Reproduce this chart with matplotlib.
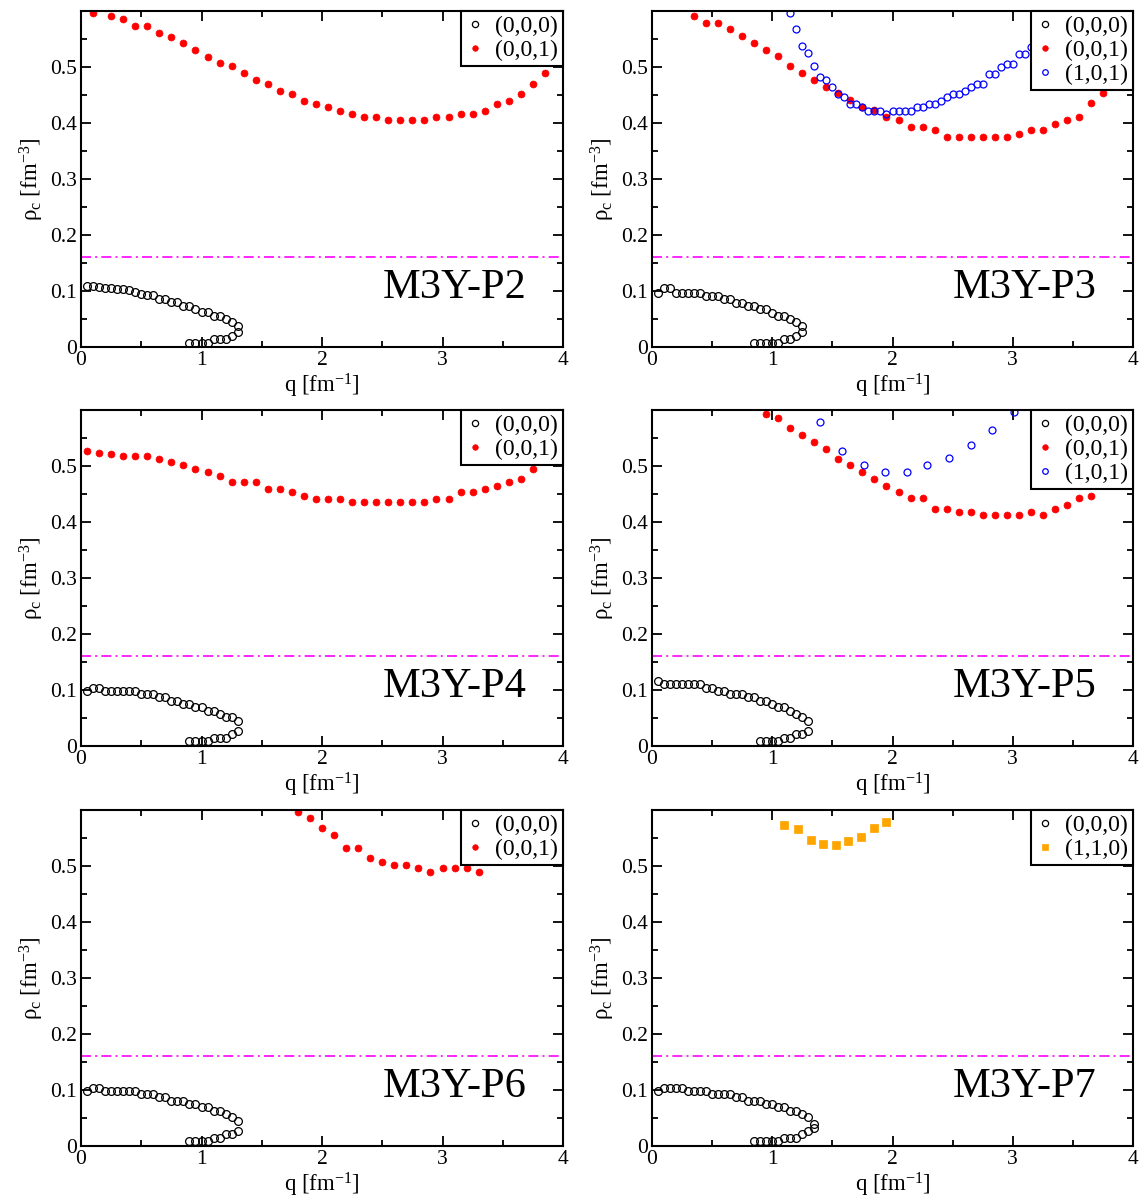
import matplotlib
matplotlib.use("Agg")
import matplotlib.pyplot as plt
from matplotlib.ticker import MultipleLocator

plt.rcParams['font.family'] = ['Liberation Serif', 'DejaVu Serif']
plt.rcParams['mathtext.fontset'] = 'custom'
plt.rcParams['mathtext.rm'] = 'Liberation Serif'
plt.rcParams['mathtext.it'] = 'Liberation Serif:italic'

# ---------------- data ----------------
# upper/lower branches of the (0,0,0) instability curve (x positions)
q_low_130 = [0.05, 0.1, 0.15, 0.2, 0.25, 0.3, 0.35, 0.4, 0.45, 0.5, 0.55, 0.6, 0.65, 0.7, 0.75,
             0.8, 0.85, 0.9, 0.95, 1.0, 1.05, 1.1, 1.15, 1.2, 1.25, 1.3,
             1.3, 1.25, 1.2, 1.15, 1.1, 1.05, 1.0, 0.95, 0.9]
q_low_125 = [0.05, 0.1, 0.15, 0.2, 0.25, 0.3, 0.35, 0.4, 0.45, 0.5, 0.55, 0.6, 0.65, 0.7, 0.75,
             0.8, 0.85, 0.9, 0.95, 1.0, 1.05, 1.1, 1.15, 1.2, 1.25,
             1.25, 1.2, 1.15, 1.1, 1.05, 1.0, 0.95, 0.9, 0.85]
q_low_135 = [0.05, 0.1, 0.15, 0.2, 0.25, 0.3, 0.35, 0.4, 0.45, 0.5, 0.55, 0.6, 0.65, 0.7, 0.75,
             0.8, 0.85, 0.9, 0.95, 1.0, 1.05, 1.1, 1.15, 1.2, 1.25, 1.3, 1.35,
             1.35, 1.3, 1.25, 1.2, 1.15, 1.1, 1.05, 1.0, 0.95, 0.9, 0.85]

# M3Y-P2
p2_000_q = q_low_130
p2_000_rho = [0.109, 0.109, 0.107, 0.106, 0.106, 0.104, 0.103, 0.101, 0.098, 0.094, 0.092, 0.092, 0.086,
              0.086, 0.080, 0.080, 0.074, 0.074, 0.068, 0.062, 0.062, 0.056, 0.056, 0.050, 0.044, 0.038,
              0.026, 0.020, 0.014, 0.014, 0.014, 0.008, 0.008, 0.008, 0.008]
p2_001_q = [0.1, 0.25, 0.35, 0.45, 0.55, 0.65, 0.75, 0.85, 0.95, 1.05, 1.15, 1.25, 1.35, 1.45, 1.55,
            1.65, 1.75, 1.85, 1.95, 2.05, 2.15, 2.25, 2.35, 2.45, 2.55, 2.65, 2.75, 2.85, 2.95, 3.05,
            3.15, 3.25, 3.35, 3.45, 3.55, 3.65, 3.75, 3.85]
p2_001_rho = [0.597, 0.591, 0.585, 0.573, 0.573, 0.560, 0.554, 0.542, 0.530, 0.518, 0.507, 0.501, 0.489,
              0.477, 0.470, 0.458, 0.452, 0.440, 0.434, 0.428, 0.422, 0.416, 0.410, 0.410, 0.405, 0.405,
              0.405, 0.405, 0.410, 0.410, 0.416, 0.416, 0.422, 0.434, 0.440, 0.452, 0.470, 0.489]

# M3Y-P3
p3_000_q = q_low_125
p3_000_rho = [0.097, 0.105, 0.105, 0.097, 0.097, 0.097, 0.097, 0.097, 0.091, 0.091, 0.091, 0.085, 0.085,
              0.079, 0.079, 0.073, 0.073, 0.067, 0.067, 0.061, 0.055, 0.055, 0.050, 0.044, 0.038,
              0.026, 0.020, 0.014, 0.014, 0.008, 0.008, 0.008, 0.008, 0.008]
p3_001_q = [0.35, 0.45, 0.55, 0.65, 0.75, 0.85, 0.95, 1.05, 1.15, 1.25, 1.35, 1.45, 1.55, 1.65, 1.75,
            1.85, 1.95, 2.05, 2.15, 2.25, 2.35, 2.45, 2.55, 2.65, 2.75, 2.85, 2.95, 3.05, 3.15, 3.25,
            3.35, 3.45, 3.55, 3.65, 3.75]
p3_001_rho = [0.591, 0.579, 0.579, 0.567, 0.555, 0.543, 0.531, 0.519, 0.501, 0.489, 0.477, 0.465, 0.453,
              0.441, 0.429, 0.423, 0.411, 0.405, 0.393, 0.393, 0.387, 0.375, 0.375, 0.375, 0.375, 0.375,
              0.375, 0.381, 0.387, 0.387, 0.399, 0.405, 0.411, 0.435, 0.453]
p3_101_q = [1.15, 1.2, 1.25, 1.3, 1.35, 1.4, 1.45, 1.5, 1.55, 1.6, 1.65, 1.7, 1.75, 1.8, 1.85, 1.9,
            1.95, 2.0, 2.05, 2.1, 2.15, 2.2, 2.25, 2.3, 2.35, 2.4, 2.45, 2.5, 2.55, 2.6, 2.65, 2.7,
            2.75, 2.8, 2.85, 2.9, 2.95, 3.0, 3.05, 3.1, 3.15, 3.45]
p3_101_rho = [0.597, 0.567, 0.537, 0.525, 0.501, 0.483, 0.477, 0.464, 0.452, 0.446, 0.434, 0.434, 0.428,
              0.422, 0.422, 0.422, 0.416, 0.422, 0.422, 0.422, 0.422, 0.428, 0.428, 0.434, 0.434, 0.440,
              0.446, 0.452, 0.452, 0.458, 0.464, 0.470, 0.470, 0.488, 0.488, 0.500, 0.506, 0.506, 0.524,
              0.524, 0.536, 0.600]

# M3Y-P4
p4_000_q = q_low_130
p4_000_rho = [0.098, 0.104, 0.104, 0.098, 0.098, 0.098, 0.098, 0.098, 0.098, 0.092, 0.092, 0.092, 0.087,
              0.087, 0.081, 0.081, 0.075, 0.075, 0.069, 0.069, 0.063, 0.063, 0.057, 0.051, 0.051, 0.045,
              0.027, 0.021, 0.015, 0.015, 0.015, 0.009, 0.009, 0.009, 0.009]
p4_001_q = [0.05, 0.15, 0.25, 0.35, 0.45, 0.55, 0.65, 0.75, 0.85, 0.95, 1.05, 1.15, 1.25, 1.35, 1.45,
            1.55, 1.65, 1.75, 1.85, 1.95, 2.05, 2.15, 2.25, 2.35, 2.45, 2.55, 2.65, 2.75, 2.85, 2.95,
            3.05, 3.15, 3.25, 3.35, 3.45, 3.55, 3.65, 3.75]
p4_001_rho = [0.526, 0.524, 0.521, 0.518, 0.518, 0.518, 0.513, 0.507, 0.501, 0.495, 0.489, 0.483, 0.471,
              0.471, 0.471, 0.459, 0.459, 0.453, 0.447, 0.441, 0.441, 0.441, 0.435, 0.435, 0.435, 0.435,
              0.435, 0.435, 0.435, 0.441, 0.441, 0.453, 0.453, 0.459, 0.465, 0.471, 0.477, 0.495]

# M3Y-P5
p5_000_q = q_low_130
p5_000_rho = [0.116, 0.110, 0.110, 0.110, 0.110, 0.110, 0.110, 0.110, 0.104, 0.104, 0.098, 0.098, 0.092,
              0.092, 0.092, 0.087, 0.087, 0.081, 0.081, 0.075, 0.069, 0.069, 0.063, 0.057, 0.051, 0.045,
              0.027, 0.021, 0.021, 0.015, 0.015, 0.009, 0.009, 0.009, 0.009]
p5_001_q = [0.95, 1.05, 1.15, 1.25, 1.35, 1.45, 1.55, 1.65, 1.75, 1.85, 1.95, 2.05, 2.15, 2.25, 2.35,
            2.45, 2.55, 2.65, 2.75, 2.85, 2.95, 3.05, 3.15, 3.25, 3.35, 3.45, 3.55, 3.65]
p5_001_rho = [0.592, 0.586, 0.567, 0.555, 0.543, 0.531, 0.513, 0.501, 0.489, 0.477, 0.465, 0.453, 0.442,
              0.442, 0.424, 0.424, 0.418, 0.418, 0.412, 0.412, 0.412, 0.412, 0.418, 0.412, 0.424, 0.430,
              0.442, 0.447]
p5_101_q = [1.4, 1.58, 1.76, 1.94, 2.12, 2.29, 2.47, 2.65, 2.83, 3.01]
p5_101_rho = [0.579, 0.527, 0.501, 0.489, 0.490, 0.501, 0.515, 0.537, 0.564, 0.597]

# M3Y-P6
p6_000_q = q_low_130
p6_000_rho = [0.098, 0.104, 0.104, 0.098, 0.098, 0.098, 0.098, 0.098, 0.098, 0.092, 0.092, 0.092, 0.087,
              0.087, 0.081, 0.081, 0.081, 0.075, 0.075, 0.069, 0.069, 0.063, 0.063, 0.057, 0.051, 0.045,
              0.027, 0.021, 0.021, 0.015, 0.015, 0.009, 0.009, 0.009, 0.009]
p6_001_q = [1.8, 1.9, 2.0, 2.1, 2.2, 2.3, 2.4, 2.5, 2.6, 2.7, 2.8, 2.9, 3.0, 3.1, 3.2, 3.3, 4.0]
p6_001_rho = [0.597, 0.585, 0.567, 0.555, 0.532, 0.532, 0.514, 0.508, 0.502, 0.502, 0.496, 0.490, 0.496,
              0.496, 0.496, 0.490, 0.595]

# M3Y-P7
p7_000_q = q_low_135
p7_000_rho = [0.098, 0.104, 0.104, 0.104, 0.104, 0.098, 0.098, 0.098, 0.098, 0.092, 0.092, 0.092, 0.092,
              0.087, 0.087, 0.081, 0.081, 0.081, 0.075, 0.075, 0.069, 0.069, 0.063, 0.063, 0.057, 0.051,
              0.039, 0.033, 0.027, 0.021, 0.015, 0.015, 0.015, 0.009, 0.009, 0.009, 0.009, 0.009]
p7_110_q = [1.1, 1.21, 1.32, 1.42, 1.53, 1.63, 1.74, 1.85, 1.95]
p7_110_rho = [0.573, 0.566, 0.546, 0.539, 0.538, 0.545, 0.552, 0.567, 0.579]

rho_0 = 0.16
panel_names = ['M3Y-P2', 'M3Y-P3', 'M3Y-P4', 'M3Y-P5', 'M3Y-P6', 'M3Y-P7']
x_ticks = [0, 1, 2, 3, 4]
y_ticks = [0, 0.1, 0.2, 0.3, 0.4, 0.5]
y_tick_labels = ['0', '0.1', '0.2', '0.3', '0.4', '0.5']

# ---------------- styles ----------------
STY = {
    '(0,0,0)': dict(marker='o', ms=5.6, mfc='none', mec='black', mew=0.9, ls='none'),
    '(0,0,1)': dict(marker='o', ms=5.0, mfc='red', mec='red', mew=0.5, ls='none'),
    '(1,0,1)': dict(marker='o', ms=5.0, mfc='none', mec='blue', mew=0.9, ls='none'),
    '(1,1,0)': dict(marker='s', ms=5.5, mfc='#ffa500', mec='#ffa500', mew=0.5, ls='none'),
}

panels = [
    [('(0,0,0)', p2_000_q, p2_000_rho), ('(0,0,1)', p2_001_q, p2_001_rho)],
    [('(0,0,0)', p3_000_q, p3_000_rho), ('(0,0,1)', p3_001_q, p3_001_rho), ('(1,0,1)', p3_101_q, p3_101_rho)],
    [('(0,0,0)', p4_000_q, p4_000_rho), ('(0,0,1)', p4_001_q, p4_001_rho)],
    [('(0,0,0)', p5_000_q, p5_000_rho), ('(0,0,1)', p5_001_q, p5_001_rho), ('(1,0,1)', p5_101_q, p5_101_rho)],
    [('(0,0,0)', p6_000_q, p6_000_rho), ('(0,0,1)', p6_001_q, p6_001_rho)],
    [('(0,0,0)', p7_000_q, p7_000_rho), ('(1,1,0)', p7_110_q, p7_110_rho)],
]

W, H = 1139, 1203
fig = plt.figure(figsize=(W / 100, H / 100), dpi=100)

lefts = [81, 652]
widths = [482, 481]
tops = [11, 410, 810]
height = 336

for i, series in enumerate(panels):
    r, c = divmod(i, 2)
    ax = fig.add_axes([lefts[c] / W, 1 - (tops[r] + height) / H, widths[c] / W, height / H])
    for label, qx, ry in series:
        ax.plot(qx, ry, label=label, **STY[label])
    ax.axhline(rho_0, color='#ff00ff', lw=1.2, ls=(0, (6, 2.5, 1.2, 2.5)))
    ax.set_xlim(0, 4)
    ax.set_ylim(0, 0.6)
    ax.set_xticks(x_ticks)
    ax.set_yticks(y_ticks)
    ax.set_yticklabels(y_tick_labels)
    ax.xaxis.set_minor_locator(MultipleLocator(0.5))
    ax.yaxis.set_minor_locator(MultipleLocator(0.05))
    ax.tick_params(which='both', direction='in', top=True, right=True, width=1.3, labelsize=15.5)
    ax.tick_params(which='major', length=7, pad=3)
    ax.tick_params(which='minor', length=4)
    for s in ax.spines.values():
        s.set_linewidth(1.5)
    ax.set_xlabel(r'q [fm$^{\mathrm{-1}}$]', fontsize=16.5, labelpad=1)
    ax.set_ylabel(r'ρ$_{\mathrm{c}}$ [fm$^{\mathrm{-3}}$]', fontsize=16.5, labelpad=3)
    ax.text(2.5, 0.087, panel_names[i], fontsize=30.5, ha='left', va='baseline')
    leg = ax.legend(loc='upper right', borderaxespad=0, fontsize=17, frameon=True, fancybox=False,
                    framealpha=1, edgecolor='black', handlelength=0.8, handletextpad=0.45,
                    borderpad=0.2, labelspacing=0.1, markerscale=0.8)
    leg.get_frame().set_linewidth(1.5)
    leg.set_zorder(10)

fig.savefig('out.png', dpi=100)
